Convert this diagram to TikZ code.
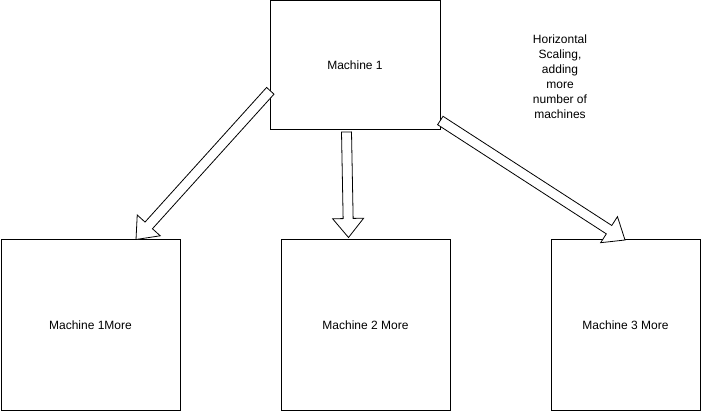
\documentclass[tikz,border=0pt]{standalone}
\usepackage{fontspec}
\setmainfont{Liberation Sans}
\usetikzlibrary{calc}

\tikzset{
  machine/.style={draw=black, line width=1pt, fill=white, inner sep=0pt,
    font=\fontsize{12}{15}\selectfont},
  flexarrow/.style={draw=black, fill=white, line width=0.8pt, line join=miter},
  note/.style={align=center, inner sep=0pt, font=\fontsize{12}{15}\selectfont}
}

% Block arrow from #1 (tail) to #2 (tip): shaft 10pt wide, head 31pt wide, 19pt long
\newcommand\flexarrow[2]{%
  \coordinate (#1-h) at ($(#2)!19pt!(#1)$);
  \draw[flexarrow]
    ($(#1)!5pt!90:(#2)$) -- ($(#1-h)!5pt!90:(#2)$) -- ($(#1-h)!15.5pt!90:(#2)$)
    -- (#2)
    -- ($(#1-h)!15.5pt!-90:(#2)$) -- ($(#1-h)!5pt!-90:(#2)$) -- ($(#1)!5pt!-90:(#2)$)
    -- cycle;
}

\begin{document}
\begin{tikzpicture}[x=1pt, y=-1pt]
  \useasboundingbox (0,0) rectangle (701,411);

  % machines
  \node[machine, minimum width=170pt, minimum height=129pt] (m1) at (355,65.5) {Machine 1};
  \node[machine, minimum width=179pt, minimum height=170pt] (n1) at (90.5,325) {Machine 1More};
  \node[machine, minimum width=169pt, minimum height=170pt] (n2) at (365.5,325) {Machine 2 More};
  \node[machine, minimum width=149pt, minimum height=170pt] (n3) at (625.5,325) {Machine 3 More};

  % annotation
  \node[note] (txt) at (560,77) {Horizontal\\Scaling,\\adding\\more\\number of\\machines};

  % arrow end points
  \coordinate (t1) at (270.3,90.8);
  \coordinate (p1) at (136,239.5);
  \coordinate (t2) at (346.5,132);
  \coordinate (p2) at (348.5,237.5);
  \coordinate (t3) at (440.3,120.5);
  \coordinate (p3) at (625,240);

  \flexarrow{t1}{p1}
  \flexarrow{t2}{p2}
  \flexarrow{t3}{p3}
\end{tikzpicture}
\end{document}
